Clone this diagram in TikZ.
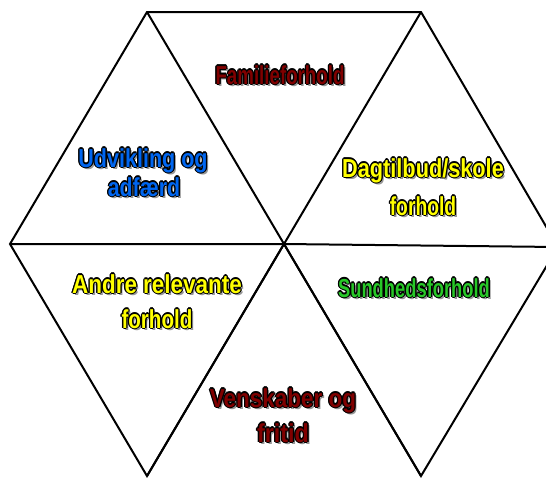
\documentclass[tikz,border=0pt]{standalone}
\usepackage{fontspec}
\newfontfamily\lblfont[FakeStretch=0.72]{Liberation Sans}
\usetikzlibrary{calc}
\definecolor{cdred}{RGB}{128,0,0}
\definecolor{cblue}{RGB}{0,102,240}
\definecolor{cyellow}{RGB}{255,255,0}
\definecolor{cgreen}{RGB}{40,200,40}
\definecolor{cshadow}{RGB}{150,150,150}
\tikzset{
  lbl/.style={anchor=base,inner sep=0pt,font=\lblfont\bfseries\fontsize{26}{30}\selectfont},
  edge/.style={draw=black,line width=2pt,line join=miter}
}
\newcommand\olabel[6]{%
  \node[lbl,text=cshadow] at (#2+2.2,#3+2.2) {\scalebox{#6}[1]{#5}};
  \foreach \a in {0,45,...,315} \node[lbl,text=black] at ($(#2,#3)+(\a:1.3)$) {\scalebox{#6}[1]{#5}};
  \node[lbl,text=#4] (#1) at (#2,#3) {\scalebox{#6}[1]{#5}};}
\begin{document}
\begin{tikzpicture}[x=1pt,y=-1pt]
\useasboundingbox (0,0) rectangle (546,477);
\clip (0,0) rectangle (546,477);
\coordinate (TL) at (147,12);
\coordinate (TR) at (421,12);
\coordinate (L) at (10,244);
\coordinate (C) at (284,244);
\coordinate (R) at (558,247);
\coordinate (BL) at (147,476);
\coordinate (BR) at (421,476);
\draw[edge] (TL) -- (TR) -- (R) -- (BR) -- (C) -- (BL) -- (L) -- cycle;
\draw[edge] (L) -- (C) -- (R);
\draw[edge] (TL) -- (C) -- (BR);
\draw[edge] (TR) -- (C) -- (BL);
\olabel{fam}{280}{84}{cdred}{Familieforhold}{1.0}
\olabel{udvA}{143}{167}{cblue}{Udvikling og}{1.15}
\olabel{udvB}{144}{196}{cblue}{adfærd}{1.14}
\olabel{dagA}{423}{177}{cyellow}{Dagtilbud/skole}{1.16}
\olabel{dagB}{423}{215}{cyellow}{forhold}{1.03}
\olabel{andA}{157}{293}{cyellow}{Andre relevante}{1.2}
\olabel{andB}{157}{328}{cyellow}{forhold}{1.1}
\olabel{sun}{414}{297}{cgreen}{Sundhedsforhold}{0.98}
\olabel{venA}{283}{407}{cdred}{Venskaber og}{1.2}
\olabel{venB}{283}{442}{cdred}{fritid}{1.25}
\end{tikzpicture}
\end{document}
